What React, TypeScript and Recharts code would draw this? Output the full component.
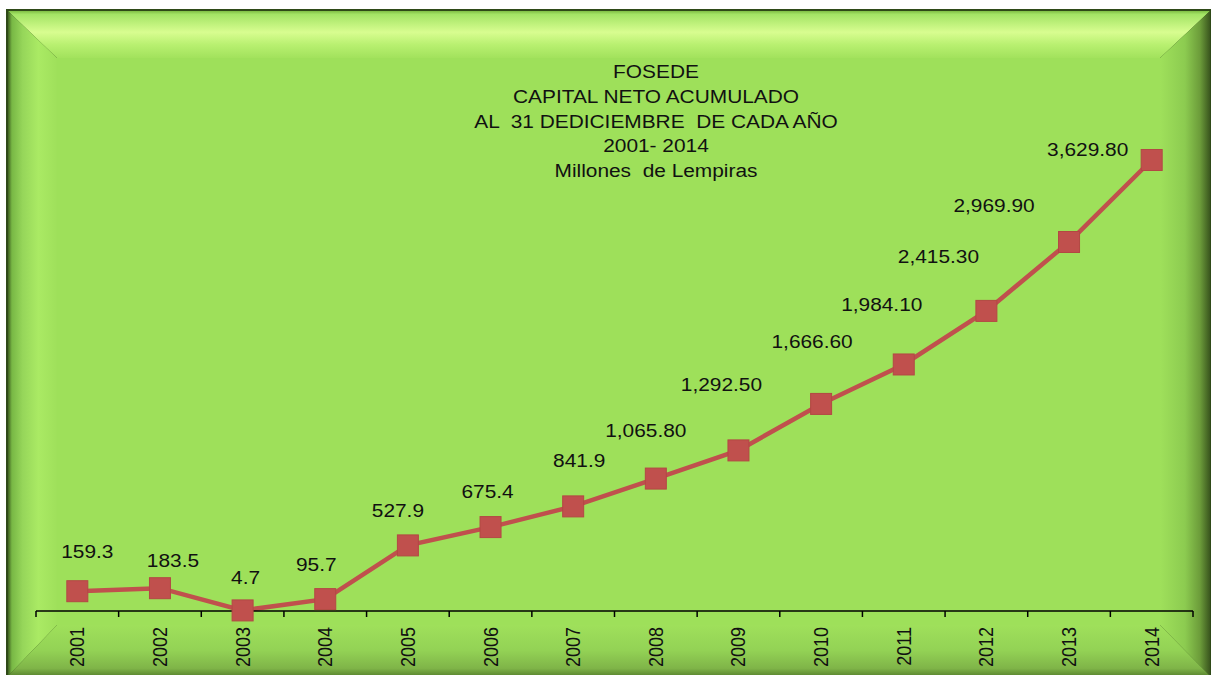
import React from "react";
import { LineChart, Line, XAxis, YAxis } from "recharts";

const years = [
  "2001", "2002", "2003", "2004", "2005", "2006", "2007",
  "2008", "2009", "2010", "2011", "2012", "2013", "2014",
];

// capital neto acumulado, millones de lempiras
const capital = [
  159.3, 183.5, 4.7, 95.7, 527.9, 675.4, 841.9,
  1065.8, 1292.5, 1666.6, 1984.1, 2415.3, 2969.9, 3629.8,
];

const capitalLabels = [
  "159.3", "183.5", "4.7", "95.7", "527.9", "675.4", "841.9",
  "1,065.80", "1,292.50", "1,666.60", "1,984.10", "2,415.30", "2,969.90", "3,629.80",
];

const titleLines = [
  "FOSEDE",
  "CAPITAL NETO ACUMULADO",
  "AL  31 DEDICIEMBRE  DE CADA AÑO",
  "2001- 2014",
  "Millones  de Lempiras",
];

// the data labels were dragged by hand in the original, so each one gets a nudge
const labelNudge: [number, number][] = [
  [10, -40], [13, -28], [3, -33], [-9, -35], [-10, -35], [-3, -36], [6, -46],
  [-10, -48], [-17, -66], [-9, -62], [-22, -60], [-48, -54], [-75, -36], [-64, -10],
];

const data = years.map((year, i) => ({ year, capital: capital[i] }));

const W = 1212;
const H = 675;
const PLOT_LEFT = 36;
const PLOT_RIGHT = 19;
const HALF_BAND = (W - PLOT_LEFT - PLOT_RIGHT) / years.length / 2;
const FONT = "'Liberation Sans', Arial, sans-serif";
const STRETCH = 1.16;
const RED = "#c0504d";

const Frame = () => (
  <svg width={W} height={H} style={{ position: "absolute", left: 0, top: 0 }}>
    <defs>
      <linearGradient id="bevTop" gradientUnits="userSpaceOnUse" x1="0" y1="11" x2="0" y2="58">
        <stop offset="0" stopColor="#7fbf45" />
        <stop offset="0.07" stopColor="#a3e465" />
        <stop offset="0.45" stopColor="#d8fd90" />
        <stop offset="0.72" stopColor="#b8f070" />
        <stop offset="1" stopColor="#a2e25c" />
      </linearGradient>
      <linearGradient id="bevLeft" gradientUnits="userSpaceOnUse" x1="8" y1="0" x2="57" y2="0">
        <stop offset="0" stopColor="#3f6020" />
        <stop offset="0.08" stopColor="#78b845" />
        <stop offset="0.3" stopColor="#96d65a" />
        <stop offset="0.62" stopColor="#aaea64" />
        <stop offset="1" stopColor="#9fe05b" />
      </linearGradient>
      <linearGradient id="bevRight" gradientUnits="userSpaceOnUse" x1="1160" y1="0" x2="1210" y2="0">
        <stop offset="0" stopColor="#9fe05b" />
        <stop offset="0.5" stopColor="#8ccb50" />
        <stop offset="0.8" stopColor="#6c9c3a" />
        <stop offset="1" stopColor="#3a561e" />
      </linearGradient>
      <linearGradient id="bevBottom" gradientUnits="userSpaceOnUse" x1="0" y1="625" x2="0" y2="676">
        <stop offset="0" stopColor="#9fe05b" />
        <stop offset="0.5" stopColor="#93d255" />
        <stop offset="0.85" stopColor="#7fb448" />
        <stop offset="1" stopColor="#5a8530" />
      </linearGradient>
    </defs>
    <rect x={6} y={9} width={1205} height={670} fill="#2f4a18" />
    <rect x={57} y={58} width={1103} height={567} fill="#9ee05a" />
    <polygon points="8,11 1210,11 1160,58 57,58" fill="url(#bevTop)" />
    <polygon points="8,11 57,58 57,625 8,676" fill="url(#bevLeft)" />
    <polygon points="1210,11 1210,676 1160,625 1160,58" fill="url(#bevRight)" />
    <polygon points="8,676 57,625 1160,625 1210,676" fill="url(#bevBottom)" />
    {titleLines.map((line, i) => (
      <text
        key={line}
        transform={`translate(656, ${78 + i * 24.8}) scale(${STRETCH}, 1)`}
        textAnchor="middle"
        fontFamily={FONT}
        fontSize={18}
        fill="#111"
        style={{ whiteSpace: "pre" }}
      >
        {line}
      </text>
    ))}
  </svg>
);

const SquareDot = (props: any) => {
  const { cx, cy, index } = props;
  if (cx == null || cy == null) return <g key={index} />;
  return (
    <rect
      key={index}
      x={cx - 10.5}
      y={cy - 10.5}
      width={21}
      height={21}
      fill={RED}
      stroke="#b34844"
      strokeWidth={1}
    />
  );
};

const PointLabel = (props: any) => {
  const { x, y, index } = props;
  const [dx, dy] = labelNudge[index];
  return (
    <text
      key={index}
      transform={`translate(${x + dx}, ${y + dy + 6.5}) scale(${STRETCH}, 1)`}
      textAnchor="middle"
      fontFamily={FONT}
      fontSize={18}
      fill="#111"
    >
      {capitalLabels[index]}
    </text>
  );
};

const YearTick = (props: any) => {
  const { x, y, payload, index } = props;
  const last = index === years.length - 1;
  return (
    <g>
      <line x1={x - HALF_BAND} y1={y} x2={x - HALF_BAND} y2={y + 6} stroke="#000" strokeWidth={1.5} />
      {last && (
        <line x1={x + HALF_BAND} y1={y} x2={x + HALF_BAND} y2={y + 6} stroke="#000" strokeWidth={1.5} />
      )}
      <text
        transform={`translate(${x + 7}, ${y + 16}) scale(${STRETCH}, 1) rotate(-90)`}
        textAnchor="end"
        fontFamily={FONT}
        fontSize={18}
        fill="#111"
      >
        {payload.value}
      </text>
    </g>
  );
};

export default function App() {
  return (
    <div style={{ position: "absolute", left: 0, top: 0, width: W, height: H }}>
      <Frame />
      <div style={{ position: "absolute", left: 0, top: 0 }}>
        <LineChart
          width={W}
          height={H}
          data={data}
          margin={{ top: 114, right: PLOT_RIGHT, left: PLOT_LEFT, bottom: 4 }}
        >
          <XAxis
            dataKey="year"
            height={60}
            padding={{ left: HALF_BAND, right: HALF_BAND }}
            axisLine={{ stroke: "#000", strokeWidth: 1.5 }}
            tickLine={false}
            tickSize={0}
            tickMargin={0}
            interval={0}
            tick={<YearTick />}
          />
          <YAxis hide domain={[0, 4000]} />
          <Line
            type="linear"
            dataKey="capital"
            stroke={RED}
            strokeWidth={4.5}
            dot={<SquareDot />}
            activeDot={false}
            label={<PointLabel />}
            isAnimationActive={false}
          />
        </LineChart>
      </div>
    </div>
  );
}
